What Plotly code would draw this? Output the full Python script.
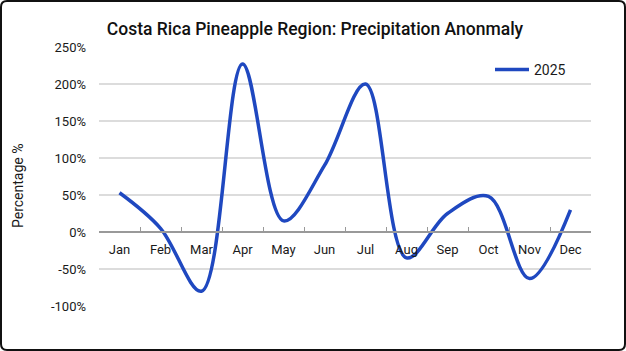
import plotly.graph_objects as go

months = ["Jan", "Feb", "Mar", "Apr", "May", "Jun", "Jul", "Aug", "Sep", "Oct", "Nov", "Dec"]
anomaly_2025 = [53, 5, -80, 227, 15, 90, 200, -35, 25, 48, -63, 30]
y_ticks = [-100, -50, 0, 50, 100, 150, 200, 250]
y_tick_labels = [f"{v}%" for v in y_ticks]

y_min, y_max = -100, 250

fig = go.Figure()
fig.add_trace(go.Scatter(
    x=months, y=anomaly_2025, mode="lines", name="2025",
    line=dict(color="#1f48c0", width=3.5, shape="spline", smoothing=1.0),
))

L, R, T, B = 99, 35, 47, 45
W, H = 626, 351
pw, ph = W - L - R, H - T - B

def px_x(p):
    return (p - L) / pw

def px_y(p):
    return 1 - (p - T) / ph

# rounded frame around the whole picture
x0, x1 = px_x(1), px_x(W - 1)
y0, y1 = px_y(H - 1), px_y(1)
rx, ry = 6 / pw, 6 / ph
path = (f"M {x0+rx},{y1} L {x1-rx},{y1} Q {x1},{y1} {x1},{y1-ry} "
        f"L {x1},{y0+ry} Q {x1},{y0} {x1-rx},{y0} L {x0+rx},{y0} "
        f"Q {x0},{y0} {x0},{y0+ry} L {x0},{y1-ry} Q {x0},{y1} {x0+rx},{y1} Z")

fig.update_layout(
    width=W, height=H,
    margin=dict(l=L, r=R, t=T, b=B),
    paper_bgcolor="white", plot_bgcolor="white",
    font=dict(family="Roboto, Arial, sans-serif", color="#1a1a1a", size=13),
    title=dict(text="Costa Rica Pineapple Region: Precipitation Anonmaly",
               x=px_x(315), xref="paper", xanchor="center",
               y=1 - 29 / H, yanchor="middle",
               font=dict(family="Roboto, Arial, sans-serif", size=17.5, color="#111111", weight=500)),
    showlegend=True,
    legend=dict(x=px_x(490), y=px_y(54), xanchor="left", yanchor="top",
                bgcolor="rgba(0,0,0,0)", font=dict(size=14, color="#1a1a1a"),
                itemwidth=34),
    shapes=[dict(type="path", path=path, xref="paper", yref="paper",
                 line=dict(color="#111111", width=2), layer="above")],
    annotations=[dict(text="Percentage %", textangle=-90, x=px_x(18), y=px_y(186),
                      xref="paper", yref="paper", xanchor="center", yanchor="middle",
                      showarrow=False, font=dict(size=14, color="#1a1a1a"))],
)

fig.update_yaxes(range=[y_min, y_max], tickvals=y_ticks, ticktext=y_tick_labels,
                 showgrid=True, gridcolor="#dcdcdc", gridwidth=1.5,
                 zeroline=False, showline=False, ticks="",
                 ticklabelstandoff=12, tickfont=dict(size=13))

fig.update_xaxes(type="category", range=[-0.5, 11.5], tickson="boundaries",
                 ticks="inside", ticklen=4, tickcolor="#999999", tickwidth=1,
                 showline=True, linecolor="#999999", linewidth=1.5,
                 showgrid=False, anchor="free",
                 position=(0 - y_min) / (y_max - y_min),
                 ticklabelstandoff=6, tickfont=dict(size=13))

fig.write_html("out.html")
